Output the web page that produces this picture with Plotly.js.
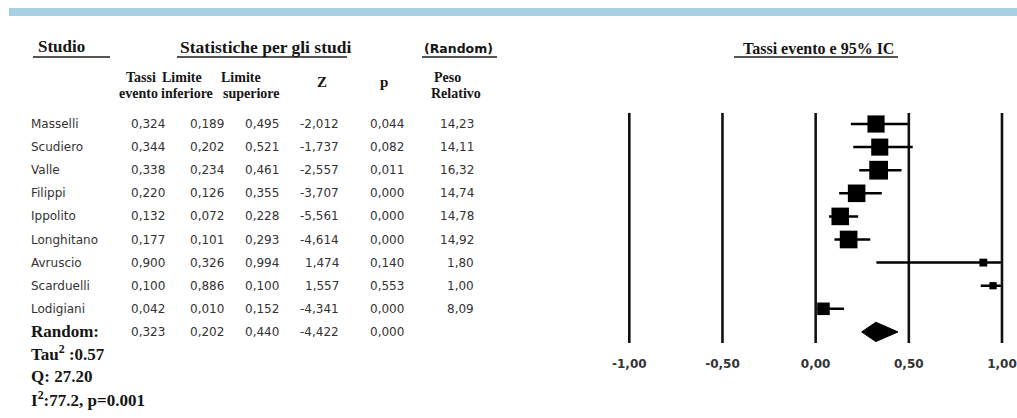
<!DOCTYPE html>
<html>
<head>
<meta charset="utf-8">
<script src="https://cdn.plot.ly/plotly-3.0.1.min.js"></script>
<style>html,body{margin:0;padding:0;background:#fff;}#chart{width:1017px;height:418px;}</style>
</head>
<body>
<div id="chart"></div>
<script>
// ---- data ----
const studies = ['Masselli','Scudiero','Valle','Filippi','Ippolito','Longhitano','Avruscio','Scarduelli','Lodigiani'];
const rateTxt  = ['0,324','0,344','0,338','0,220','0,132','0,177','0,900','0,100','0,042'];
const lowerTxt = ['0,189','0,202','0,234','0,126','0,072','0,101','0,326','0,886','0,010'];
const upperTxt = ['0,495','0,521','0,461','0,355','0,228','0,293','0,994','0,100','0,152'];
const zTxt     = ['-2,012','-1,737','-2,557','-3,707','-5,561','-4,614','1,474','1,557','-4,341'];
const pTxt     = ['0,044','0,082','0,011','0,000','0,000','0,000','0,140','0,553','0,000'];
const weightTxt= ['14,23','14,11','16,32','14,74','14,78','14,92','1,80','1,00','8,09'];
const pooledLabel = 'Random:';
const pooledTxt = ['0,323','0,202','0,440','-4,422','0,000'];

// values as drawn in the forest plot
const plotRate  = [0.324,0.344,0.338,0.220,0.132,0.177,0.900,0.952,0.042];
const plotLower = [0.189,0.202,0.234,0.126,0.072,0.101,0.326,0.886,0.010];
const plotUpper = [0.495,0.521,0.461,0.355,0.228,0.293,0.994,0.994,0.152];
const pooledRate = 0.323, pooledLower = 0.247, pooledUpper = 0.442;

const tickVals   = [-1, -0.5, 0, 0.5, 1];
const tickLabels = ['-1,00','-0,50','0,00','0,50','1,00'];

const statLines = ['Tau<sup>2</sup> :0.57', 'Q: 27.20', 'I<sup>2</sup>:77.2, p=0.001'];

// ---- layout helpers ----
const W = 1017, H = 418;
const px = x => x / W;
const py = y => 1 - y / H;
const SANS = 'DejaVu Sans';
const SERIF = 'Liberation Serif';
const bodyColor = '#333';
const headColor = '#151515';

const weights = weightTxt.map(s => parseFloat(s.replace(',', '.')));
const rows = studies.map((_, i) => i);
const pooledRow = studies.length;

const annotations = [];
function addA(text, x, y, o) {
  o = o || {};
  annotations.push({
    text: text, x: x, y: y,
    xref: o.xref || 'paper', yref: o.yref || 'paper',
    xanchor: o.xanchor || 'center', yanchor: 'middle',
    showarrow: false,
    font: {family: o.family || SANS, size: o.size || 12, color: o.color || bodyColor, weight: o.weight || 'normal'}
  });
}
const boldSerif = (size) => ({family: SERIF, size: size, weight: 'bold', color: headColor});

// headers
addA('Studio', px(36), py(47), Object.assign({xanchor: 'left'}, boldSerif(17)));
addA('Statistiche per gli studi', px(265), py(47), boldSerif(17.5));
addA('(Random)', px(458), py(48), {family: SANS, size: 12.5, weight: 'bold', color: headColor});
addA('Tassi evento e 95% IC', px(818), py(48), boldSerif(16));

addA('Tassi', px(141), py(77), boldSerif(14));
addA('evento', px(138), py(93), boldSerif(14));
addA('Limite', px(160), py(77), Object.assign({xanchor: 'left'}, boldSerif(14)));
addA('inferiore', px(159), py(93), Object.assign({xanchor: 'left'}, boldSerif(14)));
addA('Limite', px(219), py(77), Object.assign({xanchor: 'left'}, boldSerif(14)));
addA('superiore', px(221), py(93), Object.assign({xanchor: 'left'}, boldSerif(14)));
addA('Z', px(322), py(82), boldSerif(15));
addA('p', px(384), py(82), boldSerif(15));
addA('Peso', px(447), py(77), boldSerif(14));
addA('Relativo', px(456), py(93), boldSerif(14));

// table body
const colCenters = [148, 207, 262];
studies.forEach((name, i) => {
  addA(name, px(29), i, {yref: 'y', xanchor: 'left'});
  [rateTxt, lowerTxt, upperTxt].forEach((arr, c) => addA(arr[i], px(colCenters[c]), i, {yref: 'y'}));
  addA(zTxt[i], px(341), i, {yref: 'y', xanchor: 'right'});
  addA(pTxt[i], px(387), i, {yref: 'y'});
  addA(weightTxt[i], px(476), i, {yref: 'y', xanchor: 'right'});
});
addA(pooledLabel, px(29), pooledRow, Object.assign({yref: 'y', xanchor: 'left'}, boldSerif(17)));
pooledTxt.slice(0, 3).forEach((t, c) => addA(t, px(colCenters[c]), pooledRow, {yref: 'y'}));
addA(pooledTxt[3], px(341), pooledRow, {yref: 'y', xanchor: 'right'});
addA(pooledTxt[4], px(387), pooledRow, {yref: 'y'});

const statY = [353, 376, 399];
statLines.forEach((t, k) => addA(t, px(29), py(statY[k]), Object.assign({xanchor: 'left'}, boldSerif(17))));

// shapes
const shapes = [];
shapes.push({type: 'rect', xref: 'paper', yref: 'paper', x0: px(9), x1: 1, y0: py(16), y1: py(8),
  fillcolor: '#a8d0e4', line: {width: 0}});
[[33, 110], [177, 347], [422, 497], [734, 898]].forEach(([a, b]) => {
  shapes.push({type: 'line', xref: 'paper', yref: 'paper', x0: px(a), x1: px(b), y0: py(57), y1: py(57),
    line: {color: '#555', width: 2}});
});
tickVals.forEach(v => {
  shapes.push({type: 'line', xref: 'x', yref: 'y', x0: v, x1: v, y0: -0.48, y1: pooledRow + 0.48,
    layer: 'below', line: {color: '#111', width: 2.6}});
});

const traces = [
  {
    type: 'scatter', mode: 'markers', x: plotRate, y: rows, cliponaxis: false, hoverinfo: 'skip',
    marker: {symbol: 'square', color: '#000', opacity: 1, size: weights.map(w => 6.5 + 0.75 * w), line: {width: 0}},
    error_x: {type: 'data', symmetric: false,
      array: plotUpper.map((u, i) => u - plotRate[i]),
      arrayminus: plotLower.map((l, i) => plotRate[i] - l),
      thickness: 2.5, width: 0, color: '#000'}
  },
  {
    type: 'scatter', mode: 'lines', cliponaxis: false, hoverinfo: 'skip',
    x: [pooledLower, pooledRate, pooledUpper, pooledRate, pooledLower],
    y: [pooledRow, pooledRow - 0.42, pooledRow, pooledRow + 0.42, pooledRow],
    fill: 'toself', fillcolor: '#000', line: {color: '#000', width: 1}
  }
];

const layout = {
  width: W, height: H,
  margin: {l: 0, r: 0, t: 0, b: 0},
  paper_bgcolor: '#fff', plot_bgcolor: 'rgba(0,0,0,0)',
  showlegend: false,
  xaxis: {
    domain: [620 / W, 1011.3 / W], range: [-1.05, 1.05],
    tickvals: tickVals, ticktext: tickLabels,
    showgrid: false, zeroline: false, showline: false, ticks: '',
    anchor: 'free', position: py(355),
    tickfont: {family: SANS, size: 12, weight: 'bold', color: bodyColor}
  },
  yaxis: {domain: [0, 1], range: [12.727, -5.368], visible: false},
  shapes: shapes,
  annotations: annotations
};

Plotly.newPlot('chart', traces, layout, {staticPlot: true, displayModeBar: false});
</script>
</body>
</html>
